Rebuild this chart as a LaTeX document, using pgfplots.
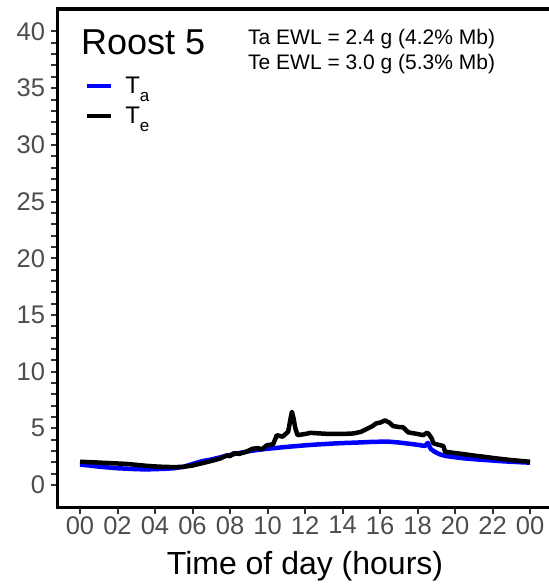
\documentclass[border=0pt]{standalone}
\usepackage{fontspec}
\setmainfont{Liberation Sans}
\usepackage{pgfplots}
\pgfplotsset{compat=1.18}
\definecolor{tickgray}{HTML}{333333}
\definecolor{labgray}{HTML}{4D4D4D}
\definecolor{tablue}{HTML}{0000FF}

\newcommand{\sub}[1]{\raisebox{-0.3em}{\fontsize{17}{17}\selectfont #1}}

\begin{document}
\begin{tikzpicture}
\begin{axis}[
  at={(57.5pt,77.3pt)}, anchor=south west,
  scale only axis, width=495pt, height=498.9pt,
  xmin=-1.2, xmax=25.2, ymin=-2, ymax=42,
  axis line style={line width=3.5pt, black},
  xtick={0,2,...,24},
  xticklabels={00,02,04,06,08,10,12,14,16,18,20,22,00},
  ytick={0,5,...,40},
  yticklabels={0,5,10,15,20,25,30,35,40},
  minor ytick={1,...,39},
  tick align=outside, xtick pos=bottom, ytick pos=left,
  major tick length=6pt, minor tick length=6pt,
  every major tick/.append style={line width=2pt, tickgray},
  every minor tick/.append style={line width=2pt, tickgray},
  ticklabel style={font=\fontsize{25.5}{25.5}\selectfont, text=labgray},
  yticklabel style={xshift=-3pt},
  xticklabel style={yshift=1pt},
  xlabel={Time of day (hours)},
  xlabel style={font=\fontsize{32}{32}\selectfont, yshift=-10pt},
  legend style={at={(axis cs:0.27,36.15)}, anchor=north west, draw=none, fill=none,
    inner sep=0pt, row sep=8pt, column sep=10pt, font=\fontsize{24}{24}\selectfont,
    nodes={inner sep=2pt}},
  legend cell align=left,
  legend image code/.code={\draw[#1, line width=4pt] (0pt,0pt) -- (24pt,0pt);},
]
% air temperature
\addplot[tablue, line width=4.5pt, line join=round] coordinates {
(0,1.80)(0.5,1.72)(1,1.62)(1.5,1.55)(2,1.48)(2.5,1.44)(3,1.40)(3.5,1.38)
(4,1.40)(4.5,1.43)(5,1.48)(5.5,1.60)(6,1.85)(6.5,2.10)(7,2.25)(7.5,2.45)
(8,2.65)(8.5,2.82)(9,2.98)(9.5,3.10)(10,3.20)(10.5,3.28)(11,3.36)(11.5,3.43)
(12,3.50)(12.5,3.56)(13,3.61)(13.5,3.66)(14,3.70)(14.5,3.73)(15,3.76)
(15.5,3.80)(16,3.82)(16.5,3.82)(17,3.75)(17.5,3.65)(18,3.55)(18.4,3.44)
(18.55,3.72)(18.7,3.20)(18.9,2.95)(19.2,2.70)(19.5,2.56)(20,2.45)(20.5,2.35)
(21,2.28)(21.5,2.22)(22,2.16)(22.5,2.10)(23,2.05)(23.5,2.01)(24,1.97)
};
\addlegendentry{T\sub{a}}
% operative temperature
\addplot[black, line width=4.5pt, line join=round] coordinates {
(0,2.05)(0.5,2.02)(1,1.98)(1.5,1.94)(2,1.90)(2.5,1.86)(3,1.78)(3.5,1.70)
(4,1.64)(4.5,1.60)(5,1.58)(5.5,1.60)(6,1.72)(6.5,1.92)(7,2.12)(7.5,2.35)
(7.8,2.60)(8.0,2.55)(8.2,2.80)(8.5,2.75)(8.9,2.95)(9.2,3.20)(9.5,3.25)
(9.7,3.15)(9.96,3.50)(10.3,3.60)(10.5,4.40)(10.8,4.26)(11.1,4.70)(11.2,5.6)
(11.3,6.46)(11.4,5.8)(11.47,5.1)(11.6,4.4)(12.0,4.5)(12.3,4.6)(13.3,4.5)
(14.0,4.5)(14.6,4.55)(15.0,4.7)(15.3,4.95)(15.6,5.2)(15.8,5.44)(16.0,5.5)
(16.27,5.7)(16.5,5.5)(16.7,5.2)(17.0,5.12)(17.24,5.08)(17.5,4.65)(18.0,4.5)
(18.3,4.4)(18.5,4.6)(18.6,4.5)(18.76,4.1)(18.84,3.68)(19.0,3.6)(19.38,3.44)
(19.47,2.94)(20,2.82)(20.44,2.73)(21,2.6)(21.5,2.5)(22.2,2.35)(23,2.2)(24,2.05)
};
\addlegendentry{T\sub{e}}
\end{axis}
\node[anchor=base west, inner sep=0pt, font=\fontsize{36}{36}\selectfont] at (81pt,530pt) {Roost 5};
\node[anchor=base west, inner sep=0pt, font=\fontsize{21}{21}\selectfont] at (248pt,540pt) {Ta EWL = 2.4 g (4.2\% Mb)};
\node[anchor=base west, inner sep=0pt, font=\fontsize{21}{21}\selectfont] at (248pt,515pt) {Te EWL = 3.0 g (5.3\% Mb)};
\pgfresetboundingbox
\useasboundingbox (0pt,0pt) rectangle (548pt,585pt);
\end{tikzpicture}
\end{document}
